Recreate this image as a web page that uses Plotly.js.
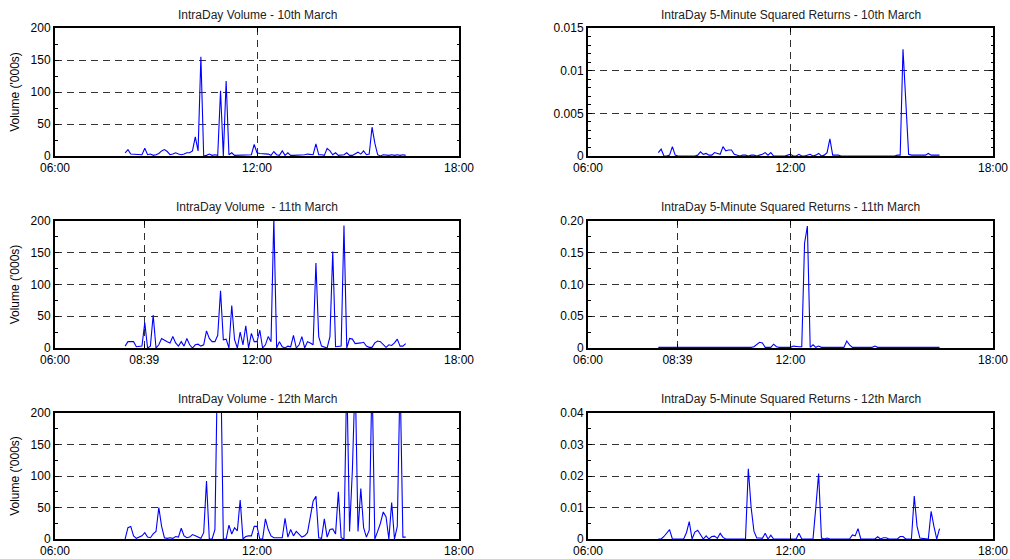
<!DOCTYPE html>
<html><head><meta charset="utf-8">
<script src="https://cdn.plot.ly/plotly-3.0.1.min.js"></script>
<style>html,body{margin:0;padding:0;background:#fff}#chart{width:1010px;height:559px}</style>
</head><body><div id="chart"></div>
<script>
// Sampling grid: 5-minute bars starting at 08:05
const startHour = 8 + 5 / 60;
const stepHours = 5 / 60;

// Volume ('000s)
const vol10 = [5,10,3,3,2,3,2,12,2,3, 1,2,4,8,10,7,2,3,5,3, 2,3,5,5,8,30,8,155,0,1, 3,1,2,1,102,0,117,2,5,1,
  1,1,1,1,2,2,18,5,4,4, 4,3,1,7,2,1,8,1,5,1, 1,1,1,1,2,3,3,2,19,2, 2,1,12,8,2,5,1,1,2,5,
  1,1,3,6,3,8,2,3,45,20, 2,0,2,1,1,2,1,2,1,2,1];
const vol11 = [3,10,10,10,2,3,3,40,0,3, 52,0,5,15,12,10,8,18,8,3, 10,3,15,5,0,5,6,3,5,27, 15,10,10,20,90,13,14,0,67,13,
  0,25,5,35,0,23,10,10,28,0, 5,18,10,205,0,10,2,0,3,2, 20,0,5,18,0,10,8,5,134,18, 3,2,0,18,152,2,3,3,193,0,
  15,14,7,7,8,9,3,1,1,8, 11,10,5,1,5,4,8,14,3,3,7];
const vol12 = [0,18,20,5,1,3,5,10,3,2, 8,12,50,20,2,1,2,1,4,3, 17,5,2,3,7,5,3,1,10,92, 0,0,15,300,300,0,0,22,8,18,
  13,62,0,4,5,5,20,20,0,0, 32,15,5,2,2,2,2,33,3,15, 5,12,8,3,5,10,35,60,68,2, 1,32,3,15,16,8,75,2,0,260,
  12,110,260,12,80,18,3,14,260,0, 12,25,43,35,0,58,0,20,260,3,3];

// 5-minute squared returns
const ret10 = [0.0004,0.0008,0,0,0.0001,0.0011,0.0001,0,0,0, 0,0,0,0,0.0001,0.0005,0.0002,0.0003,0.0001,0.0001,
  0.0004,0.0003,0.0002,0.0011,0.0006,0.0007,0.0007,0.0002,0.0001,0, 0.0001,0.0001,0,0.0001,0.0001,0,0.0001,0.0002,0.0004,0.0001,
  0.0004,0,0,0,0,0,0.0001,0.0002,0,0, 0.0002,0,0,0.0001,0.0002,0,0.0001,0.0003,0,0.0001,
  0.0004,0.0020,0.0001,0.0001,0.0001,0,0,0,0,0, 0,0,0,0,0,0,0,0,0,0,
  0,0,0,0,0,0.0001,0.0001,0.0125,0.0055,0.0002, 0.0001,0.0001,0.0001,0.0001,0.0001,0.0001,0.0003,0.0001,0.0001,0.0001,0.0001];
const ret11 = [0.001,0.001,0.001,0.001,0.001,0.0003,0.0005,0.001,0.001,0.001, 0.001,0.001,0.001,0.001,0.001,0.001,0.001,0.001,0.001,0.001,
  0.001,0.001,0.001,0.001,0.001,0.001,0.001,0.001,0.001,0.001, 0.001,0.001,0.001,0.001,0.002,0.006,0.009,0.008,0.001,0.001,
  0.001,0.006,0.002,0.001,0.001,0.001,0.001,0.001,0.003,0.002, 0.002,0.002,0.165,0.192,0.001,0.005,0.001,0.003,0.001,0.001,
  0.001,0.001,0.001,0.001,0.001,0.001,0.001,0.011,0.005,0.001, 0.001,0.001,0.001,0.001,0.001,0.001,0.001,0.003,0.001,0.001,
  0.001,0.001,0.001,0.001,0.001,0.001,0.001,0.001,0.001,0.002, 0.001,0.001,0.001,0.001,0.001,0.001,0.001,0.001,0.001,0.001,0.001];
const ret12 = [0,0,0.0008,0.002,0.003,0,0,0,0,0, 0.002,0.0055,0,0.0022,0.0028,0.0012,0,0.001,0,0.0008,
  0.0009,0.0002,0.0018,0.0005,0,0,0,0,0,0, 0,0,0.0223,0.01,0.0025,0.0003,0.0003,0.0002,0.0018,0,
  0.0012,0,0,0,0,0,0,0,0,0, 0.0018,0,0,0,0,0,0.01,0.0208,0.0003,0,
  0.0003,0,0,0,0,0,0,0,0,0.0013, 0.001,0.0033,0,0,0,0,0,0,0.0007,0,
  0.0004,0.0004,0,0,0,0,0.0008,0.0008,0,0, 0,0.0136,0.004,0.0003,0.0003,0.0001,0,0.0088,0.004,0,0.0033];

const panelTitles = [
  "IntraDay Volume - 10th March", "IntraDay 5-Minute Squared Returns - 10th March",
  "IntraDay Volume \u00a0- 11th March", "IntraDay 5-Minute Squared Returns - 11th March",
  "IntraDay Volume - 12th March", "IntraDay 5-Minute Squared Returns - 12th March"
];
const xTickVals = [6, 12, 18];
const xTickText = ["06:00", "12:00", "18:00"];
const xTickVals11 = [6, 8.65, 12, 18];
const xTickText11 = ["06:00", "08:39", "12:00", "18:00"];

const volTickVals = [0, 50, 100, 150, 200];
const volTickText = ["0", "50", "100", "150", "200"];
const ret10TickVals = [0, 0.005, 0.01, 0.015];
const ret10TickText = ["0", "0.005", "0.01", "0.015"];
const ret11TickVals = [0, 0.05, 0.10, 0.15, 0.20];
const ret11TickText = ["0", "0.05", "0.10", "0.15", "0.20"];
const ret12TickVals = [0, 0.01, 0.02, 0.03, 0.04];
const ret12TickText = ["0", "0.01", "0.02", "0.03", "0.04"];

const series = [vol10, ret10, vol11, ret11, vol12, ret12];
const yConf = [
  {range:[0,200], tv:volTickVals, tt:volTickText, minor:25, title:"Volume ('000s)"},
  {range:[0,0.015], tv:ret10TickVals, tt:ret10TickText, minor:0.001},
  {range:[0,200], tv:volTickVals, tt:volTickText, minor:25, title:"Volume ('000s)"},
  {range:[0,0.2], tv:ret11TickVals, tt:ret11TickText, minor:0.025},
  {range:[0,200], tv:volTickVals, tt:volTickText, minor:25, title:"Volume ('000s)"},
  {range:[0,0.04], tv:ret12TickVals, tt:ret12TickText, minor:0.005}
];

const W = 1010, H = 559;
const colDom = [[55/W, 459/W], [588/W, 993/W]];
const rowDom = [[1-156/H, 1-28/H], [1-348/H, 1-221/H], [1-539/H, 1-413/H]];
const titleY = [1-15/H, 1-207/H, 1-399/H];

const font = {family: "Liberation Sans, Arial, sans-serif", size: 12, color: "#000"};
const traces = [];
const layout = {
  width: W, height: H, autosize: false,
  margin: {l:0, r:0, t:0, b:0},
  paper_bgcolor: "#fff", plot_bgcolor: "#fff",
  showlegend: false, font: font, annotations: []
};

series.forEach((vals, k) => {
  const n = k + 1;
  const row = Math.floor(k / 2), col = k % 2;
  const xs = vals.map((_, i) => startHour + i * stepHours);
  traces.push({
    x: xs, y: vals, type: "scatter", mode: "lines",
    line: {color: "#0000ff", width: 1.1},
    xaxis: "x" + n, yaxis: "y" + n, hoverinfo: "skip"
  });
  const is11 = row === 1;
  const common = {
    showline: true, linecolor: "#000", linewidth: 2, mirror: "ticks",
    ticks: "inside", ticklen: 4, tickcolor: "#000", tickwidth: 1,
    zeroline: false, showgrid: true, gridcolor: "#333", gridwidth: 1, griddash: "7px,5px",
    tickfont: font, fixedrange: true
  };
  layout["xaxis" + n] = Object.assign({}, common, {
    domain: colDom[col], anchor: "y" + n, range: [6, 18],
    tickmode: "array", tickvals: is11 ? xTickVals11 : xTickVals, ticktext: is11 ? xTickText11 : xTickText
  });
  const yc = yConf[k];
  layout["yaxis" + n] = Object.assign({}, common, {
    domain: rowDom[row], anchor: "x" + n, range: yc.range,
    tickmode: "array", tickvals: yc.tv, ticktext: yc.tt,
    minor: {tickmode: "linear", tick0: 0, dtick: yc.minor, ticks: "inside", ticklen: 2.5, tickcolor: "#000", showgrid: false},
    title: yc.title ? {text: yc.title, font: font, standoff: 8} : undefined
  });
  layout.annotations.push({
    xref: "paper", yref: "paper", x: (colDom[col][0] + colDom[col][1]) / 2, y: titleY[row],
    xanchor: "center", yanchor: "middle", showarrow: false,
    text: panelTitles[k], font: {family: font.family, size: 12, color: "#222"}
  });
});

Plotly.newPlot("chart", traces, layout, {staticPlot: true, displayModeBar: false});
</script>
</body></html>
